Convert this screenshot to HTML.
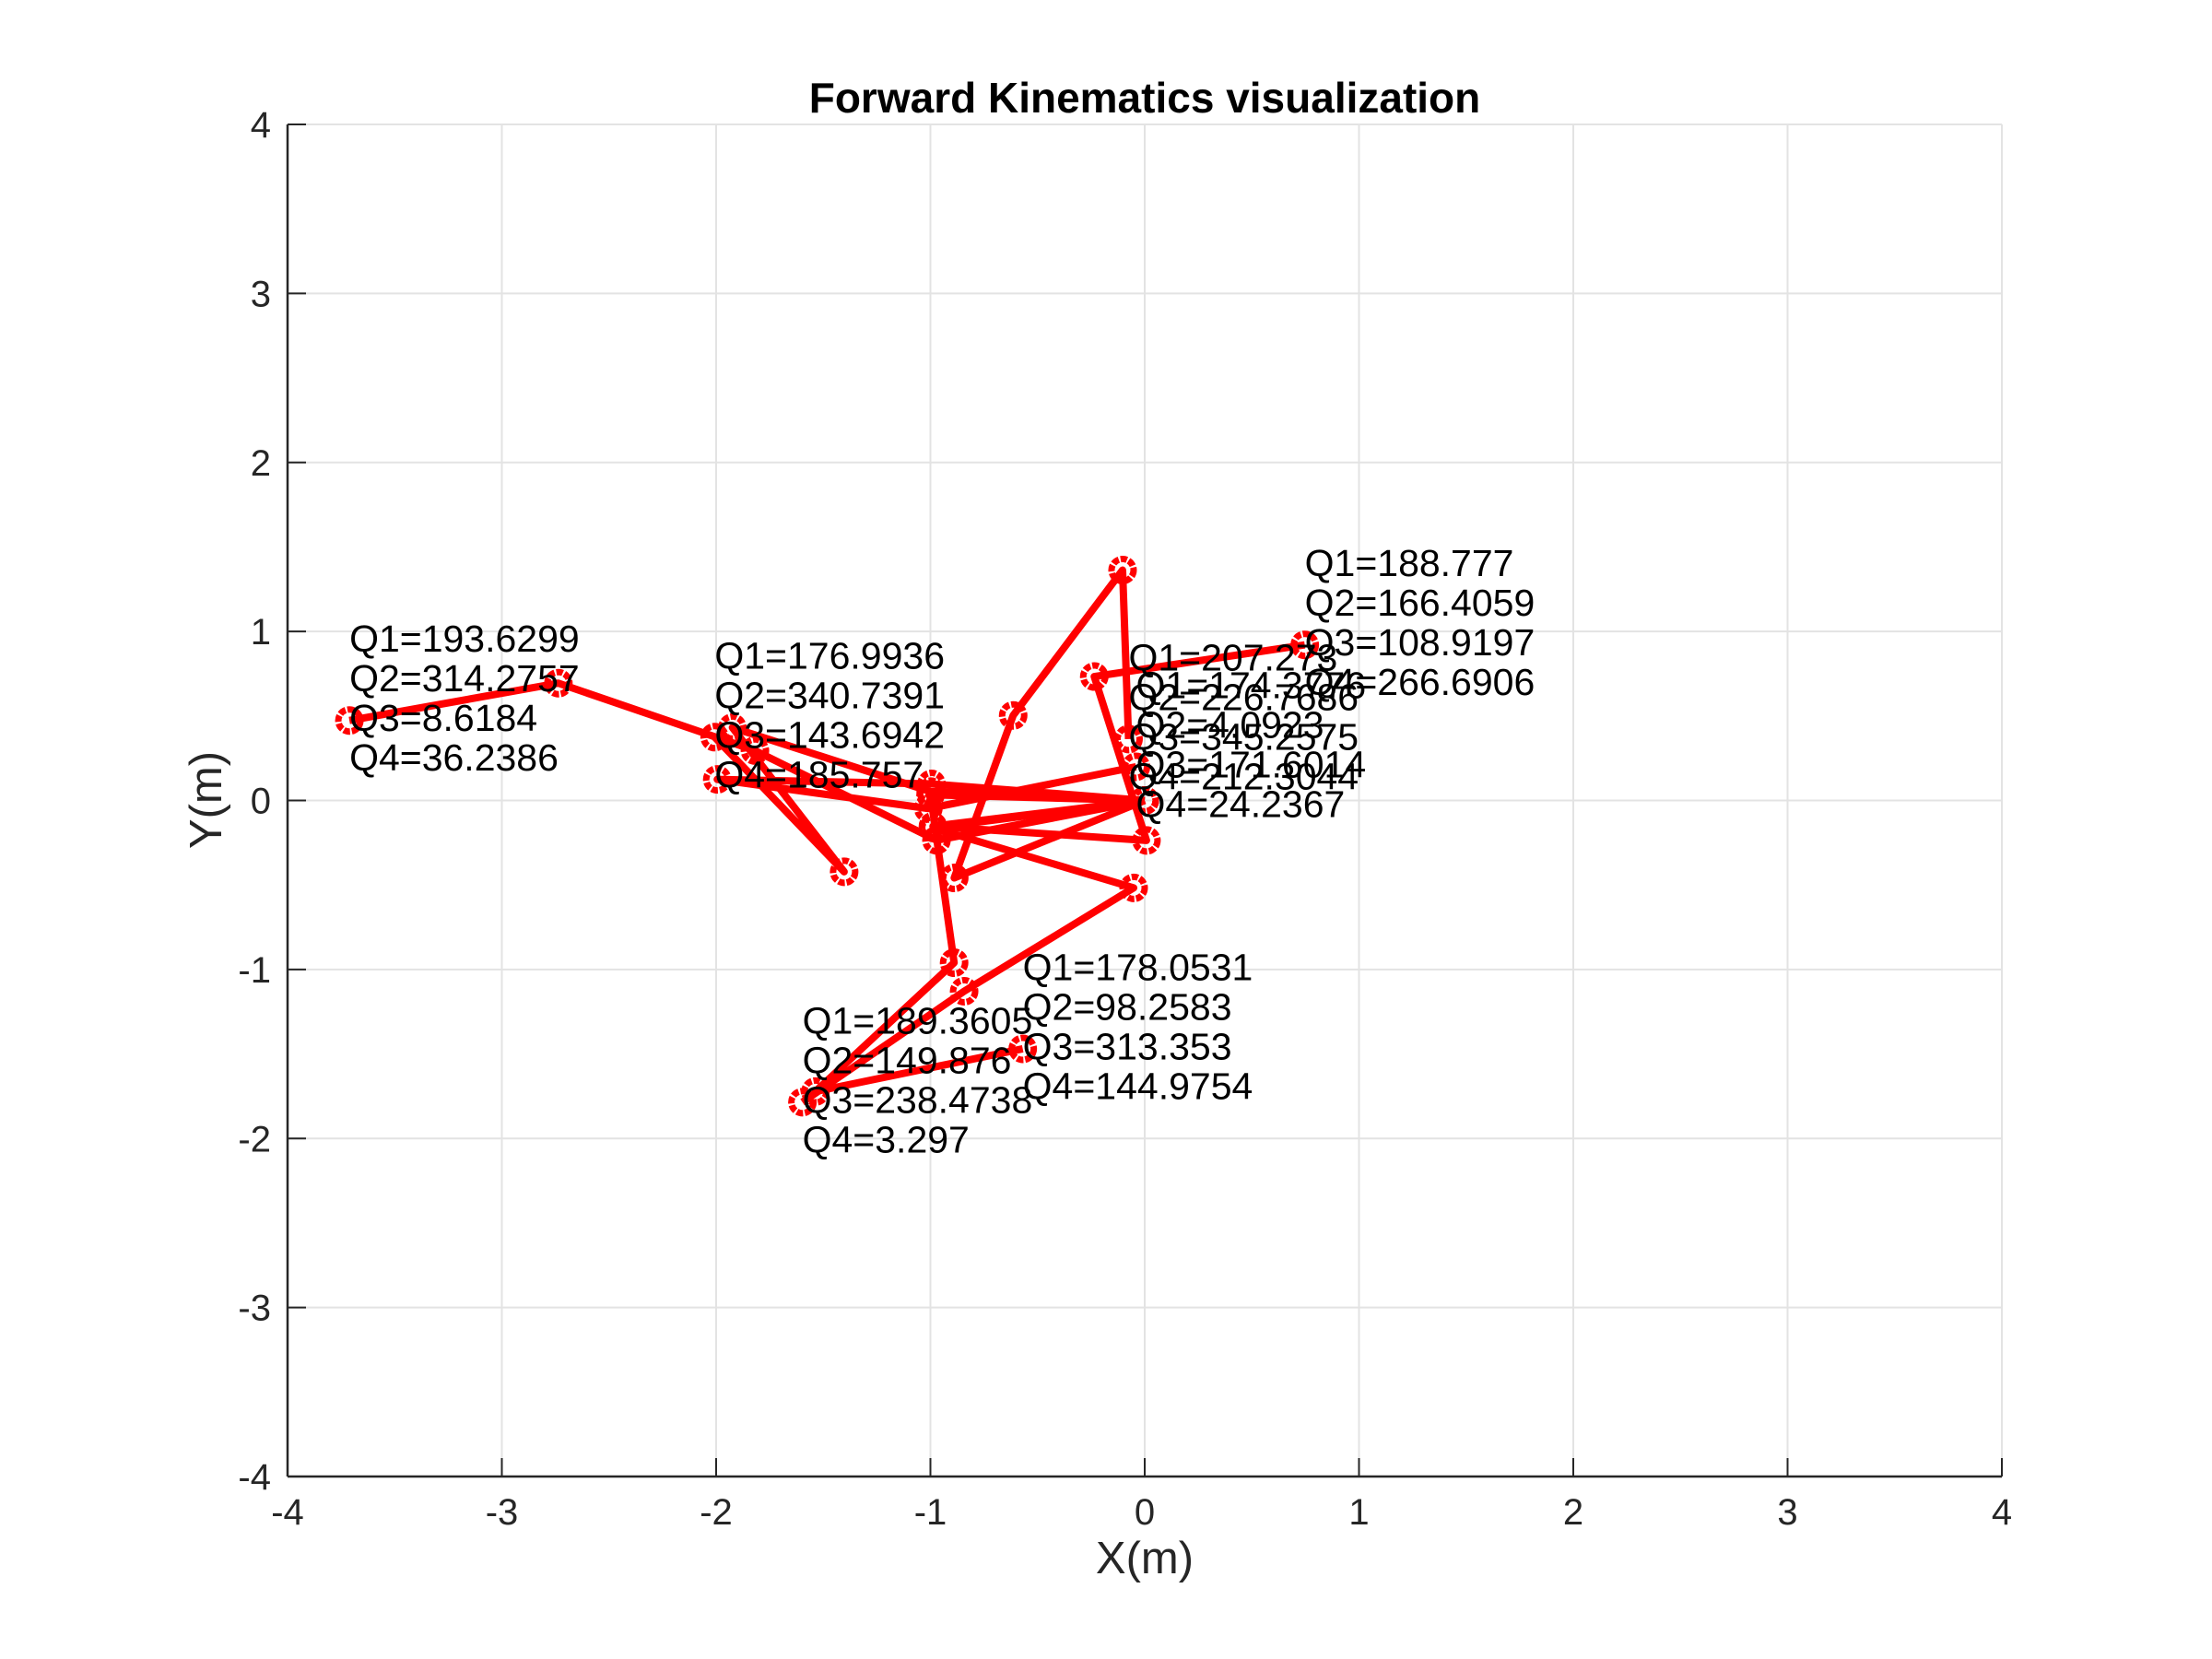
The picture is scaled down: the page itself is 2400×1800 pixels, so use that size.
<!DOCTYPE html>
<html><head><meta charset="utf-8"><style>html,body{margin:0;padding:0;background:#fff}svg{display:block}</style></head>
<body>
<svg id="chart" xmlns="http://www.w3.org/2000/svg" width="2400" height="1800" viewBox="0 0 2400 1800" font-family="Liberation Sans, Arial, sans-serif">
<rect x="0" y="0" width="2400" height="1800" fill="#fff"/>
<g id="grid"></g>
<g id="axes"></g>
<g id="arms"></g>
<g id="labels"></g>
<text x="1242" y="122" font-size="46" font-weight="bold" text-anchor="middle" fill="#000">Forward Kinematics visualization</text>
<text x="1242" y="1707" font-size="49" text-anchor="middle" fill="#262626">X(m)</text>
<text x="0" y="0" font-size="49" text-anchor="middle" fill="#262626" transform="translate(240,868) rotate(-90)">Y(m)</text>
</svg>
<script>
const xTicks = [-4,-3,-2,-1,0,1,2,3,4];
const yTicks = [-4,-3,-2,-1,0,1,2,3,4];
const q1 = [193.6299, 176.9936, 207.273, 174.3776, 188.777, 189.3605, 178.0531];
const q2 = [314.2757, 340.7391, 226.7686, 4.0923, 166.4059, 149.876, 98.2583];
const q3 = [8.6184, 143.6942, 345.2575, 171.6014, 108.9197, 238.4738, 313.353];
const q4 = [36.2386, 185.757, 212.3044, 24.2367, 266.6906, 3.297, 144.9754];
const q1Text = ['193.6299','176.9936','207.273','174.3776','188.777','189.3605','178.0531'];
const q2Text = ['314.2757','340.7391','226.7686','4.0923','166.4059','149.876','98.2583'];
const q3Text = ['8.6184','143.6942','345.2575','171.6014','108.9197','238.4738','313.353'];
const q4Text = ['36.2386','185.757','212.3044','24.2367','266.6906','3.297','144.9754'];
const linkLen = [1,1,1,1];

const NS = 'http://www.w3.org/2000/svg';
const L = 312, R = 2172, T = 135, B = 1602;
const xMin = -4, xMax = 4, yMin = -4, yMax = 4;
function sx(v){ return L + (v - xMin) / (xMax - xMin) * (R - L); }
function sy(v){ return B - (v - yMin) / (yMax - yMin) * (B - T); }
function mk(tag, attrs, parent){ const e = document.createElementNS(NS, tag); for (const k in attrs) e.setAttribute(k, attrs[k]); parent.appendChild(e); return e; }

const grid = document.getElementById('grid');
const axes = document.getElementById('axes');
xTicks.forEach(t => {
  const gl = mk('line', {x1: sx(t), x2: sx(t), y1: T, y2: B, stroke: '#e3e3e3', 'stroke-width': 2}, grid);
  
  
  const tk = mk('line', {x1: sx(t), x2: sx(t), y1: B, y2: B - 20, stroke: '#262626', 'stroke-width': 2}, axes);
  
  
  const lb = mk('text', {x: sx(t), y: 1654, 'font-size': 40, 'text-anchor': 'middle', fill: '#262626'}, axes);
  lb.textContent = String(t);
  
  
});
yTicks.forEach(t => {
  const gl = mk('line', {x1: L, x2: R, y1: sy(t), y2: sy(t), stroke: '#e3e3e3', 'stroke-width': 2}, grid);
  
  
  const tk = mk('line', {x1: L, x2: L + 20, y1: sy(t), y2: sy(t), stroke: '#262626', 'stroke-width': 2}, axes);
  
  
  const lb = mk('text', {x: 294, y: sy(t) + 14, 'font-size': 40, 'text-anchor': 'end', fill: '#262626'}, axes);
  lb.textContent = String(t);
  
  
});
const xa = mk('line', {x1: L, x2: R, y1: B, y2: B, stroke: '#262626', 'stroke-width': 2.5}, axes);


const ya = mk('line', {x1: L, x2: L, y1: T, y2: B, stroke: '#262626', 'stroke-width': 2.5}, axes);



const arms = document.getElementById('arms');
const labels = document.getElementById('labels');
for (let i = 0; i < q1.length; i++) {
  const qs = [q1[i], q2[i], q3[i], q4[i]];
  let x = 0, y = 0, a = 0;
  const pts = [[0, 0]];
  for (let j = 0; j < 4; j++) {
    a += qs[j] * Math.PI / 180;
    x += linkLen[j] * Math.cos(a);
    y += linkLen[j] * Math.sin(a);
    pts.push([x, y]);
  }
  const g = mk('g', {}, arms);
  
  
  const pl = mk('polyline', {points: pts.map(p => sx(p[0]) + ',' + sy(p[1])).join(' '), fill: 'none', stroke: '#ff0000', 'stroke-width': 8, 'stroke-linejoin': 'round'}, g);
  
  
  pts.forEach(p => {
    const c = mk('circle', {cx: sx(p[0]), cy: sy(p[1]), r: 12, fill: 'none', stroke: '#ff0000', 'stroke-width': 7, 'stroke-dasharray': '7 2'}, g);
    
    
  });
  const end = pts[4];
  const tx = sx(end[0]);
  const cy = sy(end[1]) - 25;
  const txt = mk('text', {x: tx, y: cy - 64.5 + 15, 'font-size': 41, fill: '#000'}, labels);
  
  
  const lines = ['Q1=' + q1Text[i], 'Q2=' + q2Text[i], 'Q3=' + q3Text[i], 'Q4=' + q4Text[i]];
  lines.forEach((s, k) => {
    const ts = mk('tspan', {x: tx, dy: k === 0 ? 0 : 43}, txt);
    ts.textContent = s;
  });
}
</script>
</body></html>
